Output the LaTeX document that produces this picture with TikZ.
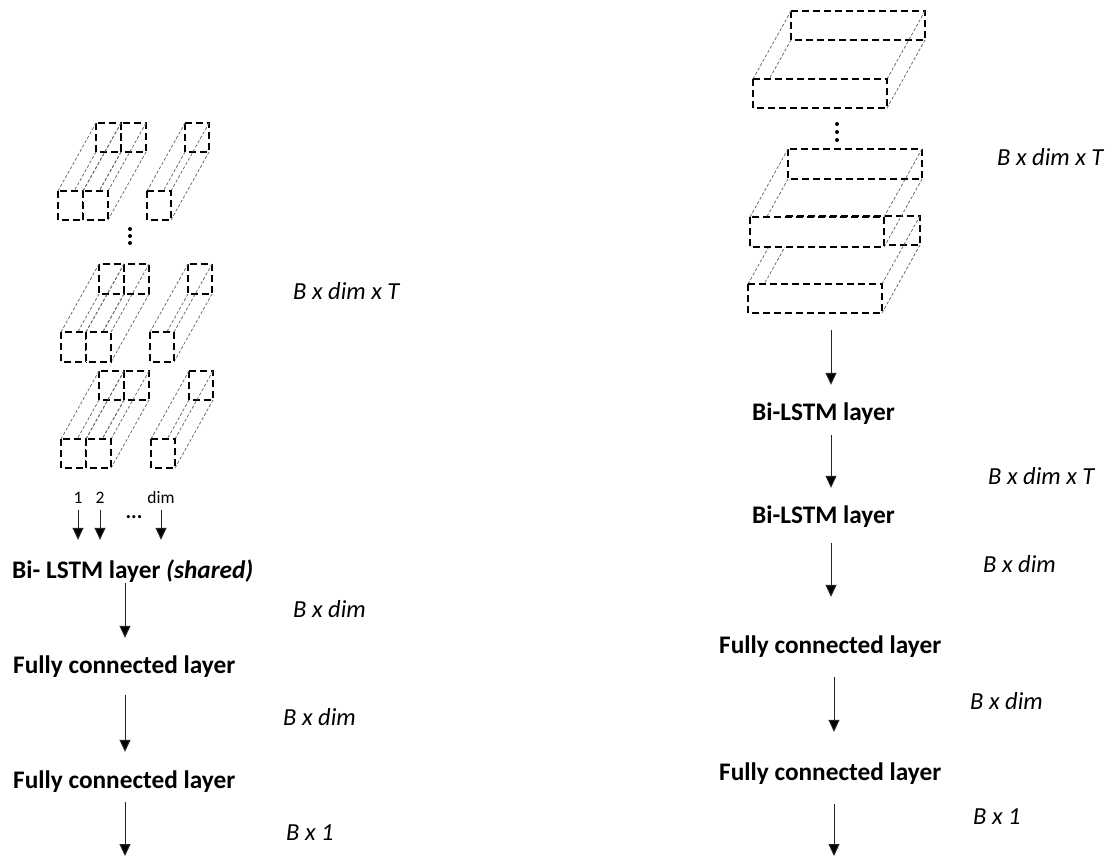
\documentclass[tikz,border=0pt]{standalone}
\usepackage{fontspec}
\setmainfont{Carlito}
\usetikzlibrary{arrows.meta,calc}
\tikzset{
  face/.style={draw=black, fill=white, line width=1.6pt, dash pattern=on 7pt off 4pt},
  backface/.style={draw=black, line width=1.6pt, dash pattern=on 7pt off 4pt},
  edge/.style={draw=black!60, line width=0.75pt, dash pattern=on 3pt off 2pt},
  lay/.style={inner sep=0pt, text height=20pt, text depth=4pt, font=\fontsize{25.3}{30}\selectfont\bfseries},
  dimlab/.style={inner sep=0pt, text height=19pt, text depth=4pt, font=\fontsize{24.5}{29}\selectfont\itshape},
  small/.style={inner sep=0pt, text height=11pt, text depth=0pt, font=\fontsize{17.5}{20}\selectfont},
  arr/.style={draw=black!85, line width=1pt, -{Triangle[width=11pt,length=12pt,fill=black]}},
  vdot/.style={fill=black, draw=none},
}
\newcommand{\prism}[4]{%
  \draw[backface] (#1+38,#2-68) rectangle ++(#3,#4);
  \draw[edge] (#1,#2) -- ++(38,-68);
  \draw[edge] (#1+#3,#2) -- ++(38,-68);
  \draw[edge] (#1+#3,#2+#4) -- ++(38,-68);
  \draw[edge] (#1,#2+#4) -- ++(38,-68);
  \draw[face] (#1,#2) rectangle ++(#3,#4);
}
\begin{document}
\begin{tikzpicture}[x=1pt,y=-1pt]
\useasboundingbox (0,0) rectangle (1110,857);

% ---------------- left: column boxes ----------------
\prism{58}{191}{25}{29}
\prism{83}{191}{25}{29}
\prism{147}{191}{24}{29}
\fill[vdot] (130,229) circle (2) (130,236) circle (2) (130,243) circle (2);
\prism{61}{332}{25}{30}
\prism{86}{332}{25}{30}
\prism{150}{332}{24}{30}
\prism{61}{439}{25}{29}
\prism{86}{439}{25}{29}
\prism{151}{439}{24}{29}

\node[small] (l1) at (78,498) {1};
\node[small] (l2) at (100,498) {2};
\node[small] (ld) at (161,498) {dim};
\node[inner sep=0pt, font=\fontsize{21}{24}\selectfont\bfseries] (ell) at (134,517) {...};

\node[lay, anchor=west] (blL) at (12,570) {Bi- LSTM layer \textit{(shared)}};
\node[lay, anchor=west] (fc1L) at (13,665) {Fully connected layer};
\node[lay, anchor=west] (fc2L) at (13,780) {Fully connected layer};

\node[dimlab, anchor=west] (dTL) at (293,292) {B x dim x T};
\node[dimlab, anchor=west] (dd1L) at (293,610) {B x dim};
\node[dimlab, anchor=west] (dd2L) at (283,718) {B x dim};
\node[dimlab, anchor=west] (d1L) at (286,833) {B x 1};

\draw[arr, shorten <=6.5pt, shorten >=18pt] (l1.south) -- (l1.south |- blL.north);
\draw[arr, shorten <=6.5pt, shorten >=18pt] (l2.south) -- (l2.south |- blL.north);
\draw[arr, shorten <=6.5pt, shorten >=18pt] (ld.south) -- (ld.south |- blL.north);

\coordinate (axL) at (125,0);
\coordinate (endL) at (125,856);
\draw[arr, shorten <=1pt, shorten >=15pt] (blL.south -| axL) -- (fc1L.north -| axL);
\draw[arr, shorten <=18pt, shorten >=16pt] (fc1L.south -| axL) -- (fc2L.north -| axL);
\draw[arr, shorten <=10pt] (fc2L.south -| axL) -- (endL);

% ---------------- right: slabs ----------------
\prism{748}{284}{134}{29}
\prism{750}{217}{134}{30}
\prism{753}{79}{134}{29}
\fill[vdot] (837,124) circle (2) (837,132) circle (2) (837,140) circle (2);

\coordinate (slabB) at (831,313);
\node[lay, anchor=west] (bi1R) at (752,412) {Bi-LSTM layer};
\node[lay, anchor=west] (bi2R) at (752,515) {Bi-LSTM layer};
\node[lay, anchor=west] (fc1R) at (719,645) {Fully connected layer};
\node[lay, anchor=west] (fc2R) at (719,772) {Fully connected layer};

\node[dimlab, anchor=west] (dT1R) at (997,158) {B x dim x T};
\node[dimlab, anchor=west] (dT2R) at (988,477) {B x dim x T};
\node[dimlab, anchor=west] (dd1R) at (983,565) {B x dim};
\node[dimlab, anchor=west] (dd2R) at (970,702) {B x dim};
\node[dimlab, anchor=west] (d1R) at (973,817) {B x 1};

\coordinate (axR) at (831,0);
\coordinate (axS) at (834,0);
\coordinate (endR) at (834,856);
\draw[arr, shorten <=17pt, shorten >=15pt] (slabB) -- (bi1R.north -| axR);
\draw[arr, shorten <=11pt, shorten >=15pt] (bi1R.south -| axR) -- (bi2R.north -| axR);
\draw[arr, shorten <=16pt, shorten >=36pt] (bi2R.south -| axR) -- (fc1R.north -| axR);
\draw[arr, shorten <=20pt, shorten >=28pt] (fc1R.south -| axS) -- (fc2R.north -| axS);
\draw[arr, shorten <=20pt] (fc2R.south -| axS) -- (endR);
\end{tikzpicture}
\end{document}
